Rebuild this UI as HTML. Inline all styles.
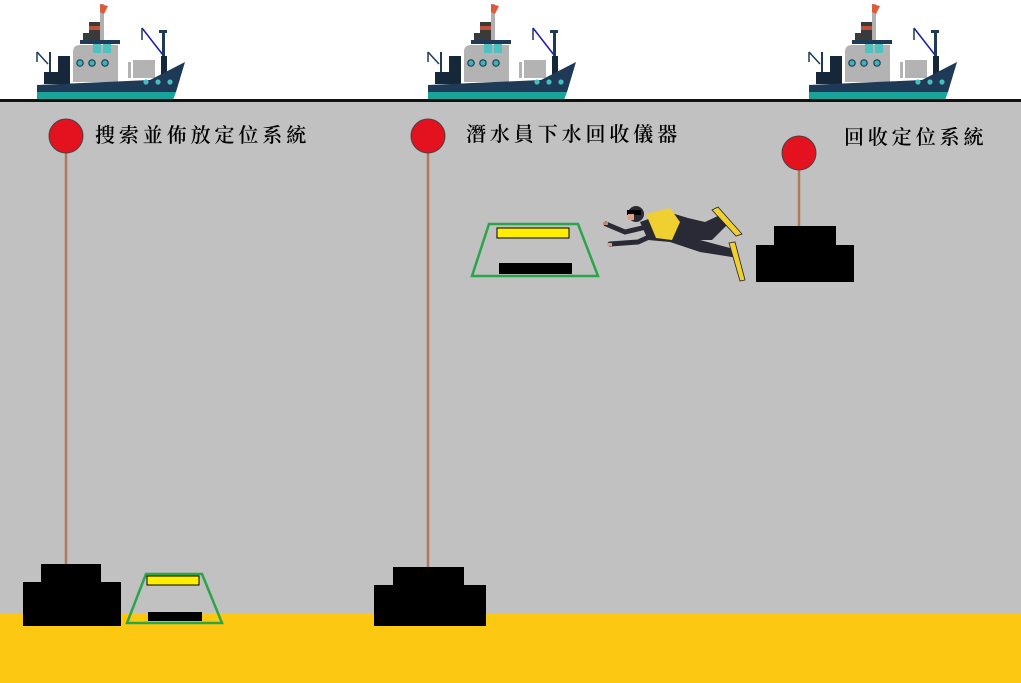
<!DOCTYPE html>
<html><head><meta charset="utf-8"><style>
html,body{margin:0;padding:0;width:1021px;height:683px;overflow:hidden;background:#fff}
svg{display:block}
text{font-family:"Noto Serif CJK SC","Noto Serif CJK TC","Liberation Serif",serif;font-size:20px;letter-spacing:3.9px;fill:#000;font-weight:600}
</style></head><body>
<svg width="1021" height="683" viewBox="0 0 1021 683">
<defs>
<g id="ship">
  <rect x="100" y="4" width="4" height="38" fill="#b0b0b0"/>
  <polygon points="100,4 108,6 104,14 100,12" fill="#e05a3a"/>
  <rect x="89" y="22" width="11" height="18" fill="#3a3a3a"/>
  <rect x="89" y="26" width="11" height="4" fill="#c0503a"/>
  <rect x="83" y="33" width="6" height="8" fill="#3a3a3a"/>
  <rect x="80" y="40" width="40" height="4" fill="#1e3a56"/>
  <path d="M73,82 L73,52 Q73,45 80,45 L118,45 L118,82Z" fill="#b3b3b3"/>
  <rect x="93" y="44" width="8" height="9" fill="#4fc1c1"/>
  <rect x="103" y="44" width="8" height="9" fill="#4fc1c1"/>
  <circle cx="80" cy="63" r="3.2" fill="#3fb3b3" stroke="#1e3a56" stroke-width="1.2"/>
  <circle cx="92" cy="63" r="3.2" fill="#3fb3b3" stroke="#1e3a56" stroke-width="1.2"/>
  <circle cx="105" cy="63" r="3.2" fill="#3fb3b3" stroke="#1e3a56" stroke-width="1.2"/>
  <rect x="128" y="62" width="3" height="16" fill="#b3b3b3"/>
  <rect x="133" y="60" width="22" height="18" fill="#b3b3b3"/>
  <rect x="58" y="56" width="12" height="28" fill="#16273a"/>
  <rect x="44" y="72" width="20" height="12" fill="#16273a"/>
  <line x1="37" y1="52" x2="48" y2="64" stroke="#1e3a56" stroke-width="1.5"/>
  <line x1="37" y1="52" x2="37" y2="62" stroke="#1e3a56" stroke-width="1.5"/>
  <line x1="50" y1="52" x2="50" y2="72" stroke="#1e3a56" stroke-width="2"/>
  <line x1="142" y1="28" x2="163" y2="55" stroke="#1a1ab8" stroke-width="1.5"/>
  <line x1="142" y1="28" x2="142" y2="40" stroke="#1e3a56" stroke-width="1.5"/>
  <rect x="162" y="31" width="3" height="50" fill="#1e3a56"/>
  <rect x="159" y="30" width="8" height="3" fill="#1e3a56"/>
  <rect x="161" y="56" width="6" height="24" fill="#16273a"/>
  <polygon points="37,85 150,80 185,62 176,92 37,92" fill="#1e3a56"/>
  <polygon points="37,92 176,92 173,100 37,100" fill="#1aa39a"/>
  <circle cx="146" cy="82" r="2.6" fill="#3fc1c1"/>
  <circle cx="158" cy="82" r="2.6" fill="#3fc1c1"/>
  <circle cx="170" cy="82" r="2.6" fill="#3fc1c1"/>
</g>
</defs>
<rect x="0" y="101" width="1021" height="512" fill="#c1c1c1"/>
<rect x="0" y="613" width="1021" height="70" fill="#fcc812"/>
<use href="#ship" x="0" y="0"/>
<use href="#ship" x="391" y="0"/>
<use href="#ship" x="772" y="0"/>
<rect x="0" y="99" width="1021" height="3" fill="#111"/>

<line x1="66" y1="150" x2="66" y2="565" stroke="#b07a5a" stroke-width="2.5"/>
<line x1="428" y1="150" x2="428" y2="567" stroke="#b07a5a" stroke-width="2.5"/>
<line x1="799" y1="168" x2="799" y2="227" stroke="#b07a5a" stroke-width="2.5"/>
<circle cx="66" cy="136" r="17" fill="#e3121e" stroke="#444" stroke-width="1"/>
<circle cx="428" cy="136" r="17" fill="#e3121e" stroke="#444" stroke-width="1"/>
<circle cx="799" cy="153" r="17" fill="#e3121e" stroke="#444" stroke-width="1"/>

<text x="95" y="142">搜索並佈放定位系統</text>
<text x="466" y="141">潛水員下水回收儀器</text>
<text x="844" y="144">回收定位系統</text>

<rect x="41" y="564" width="60" height="19" fill="#000"/>
<rect x="23" y="582" width="98" height="44" fill="#000"/>
<rect x="393" y="567" width="71" height="19" fill="#000"/>
<rect x="374" y="585" width="112" height="41" fill="#000"/>
<rect x="774" y="226" width="62" height="20" fill="#000"/>
<rect x="756" y="245" width="98" height="37" fill="#000"/>

<polygon points="146,574 202,574 222,623 127,623" fill="none" stroke="#2aa54a" stroke-width="2.5"/>
<rect x="147" y="576" width="52" height="9" fill="#ffee00" stroke="#000" stroke-width="1"/>
<rect x="148" y="612" width="54" height="9" fill="#000"/>
<polygon points="489,224 578,224 598,276 472,276" fill="none" stroke="#2aa54a" stroke-width="2.5"/>
<rect x="497" y="228" width="72" height="10" fill="#ffee00" stroke="#000" stroke-width="1"/>
<rect x="499" y="263" width="73" height="11" fill="#000"/>

<g>
  <polyline points="606,224 625,232 642,228" fill="none" stroke="#2a2a36" stroke-width="5" stroke-linecap="round"/>
  <polyline points="610,244 638,242 660,232" fill="none" stroke="#2a2a36" stroke-width="5" stroke-linecap="round"/>
  <polygon points="640,222 668,212 688,218 705,222 720,215 730,222 712,240 700,240 730,248 738,258 700,252 670,242 648,240" fill="#2a2a36"/>
  <polygon points="646,214 670,208 680,222 672,240 656,238" fill="#f0d030"/>
  <circle cx="636" cy="214" r="8" fill="#2a2a36"/>
  <rect x="627" y="210" width="14" height="5" fill="#000"/>
  <rect x="628" y="214" width="6" height="6" fill="#e2a080"/>
  <polygon points="712,210 718,207 742,234 736,236" fill="#f0d030" stroke="#222" stroke-width="0.8"/>
  <polygon points="729,243 735,242 745,280 740,281" fill="#f0d030" stroke="#222" stroke-width="0.8"/>
  <rect x="603" y="222" width="5" height="3" fill="#c08a70"/>
  <rect x="607" y="243" width="5" height="3" fill="#e2a080"/>
</g>
</svg>
</body></html>
